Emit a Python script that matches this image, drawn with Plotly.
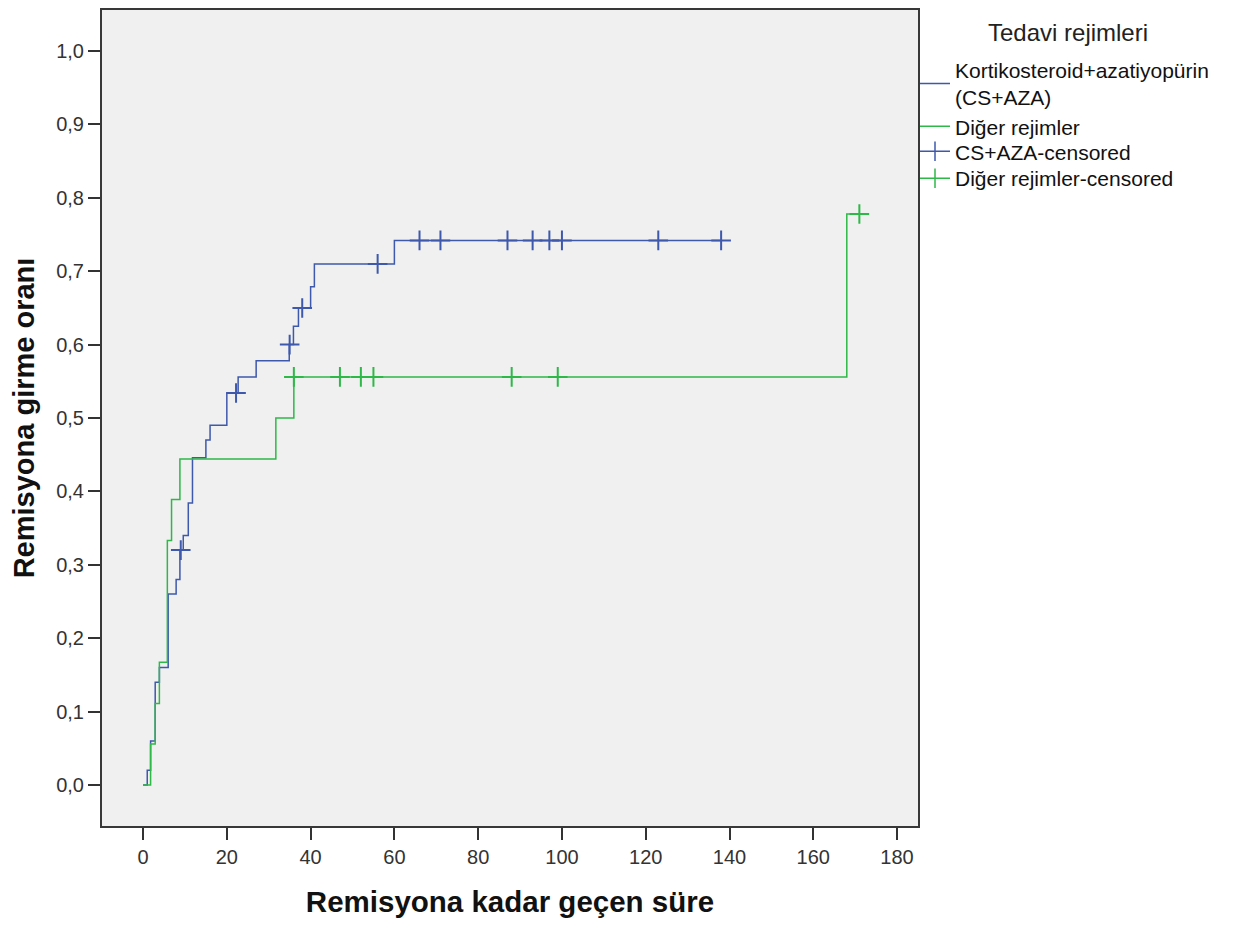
import plotly.graph_objects as go

# ---- data ----
cs_aza_time = [0, 1, 1.8, 2.9, 3.9, 6.0, 7.9, 8.8, 9.6, 10.8, 11.8, 15.0, 16.0, 20.0, 22.7,
               27.0, 34.9, 35.9, 37.1, 40.0, 40.9, 60.0, 138]
cs_aza_rate = [0, 0.02, 0.06, 0.14, 0.16, 0.26, 0.28, 0.32, 0.34, 0.384, 0.446, 0.47, 0.49,
               0.534, 0.556, 0.578, 0.60, 0.625, 0.65, 0.679, 0.71, 0.742, 0.742]
cs_aza_cens_time = [9.0, 22.2, 35.0, 38.0, 56.0, 66, 71, 87, 93, 97, 100, 123, 138]
cs_aza_cens_rate = [0.32, 0.534, 0.60, 0.65, 0.71, 0.742, 0.742, 0.742, 0.742, 0.742, 0.742,
                    0.742, 0.742]

diger_time = [0, 1.8, 2.9, 3.9, 5.8, 6.8, 8.8, 31.7, 36.0, 168, 171]
diger_rate = [0, 0.0556, 0.111, 0.167, 0.333, 0.389, 0.444, 0.5, 0.556, 0.778, 0.778]
diger_cens_time = [36, 47, 52, 55, 88, 99, 171]
diger_cens_rate = [0.556, 0.556, 0.556, 0.556, 0.556, 0.556, 0.778]

series_names = ["Kortikosteroid+azatiyopürin<br>(CS+AZA)", "Diğer rejimler",
                "CS+AZA-censored", "Diğer rejimler-censored"]
legend_title = "Tedavi rejimleri"
x_title = "Remisyona kadar geçen süre"
y_title = "Remisyona girme oranı"
x_ticks = [0, 20, 40, 60, 80, 100, 120, 140, 160, 180]
y_ticks = [0.0, 0.1, 0.2, 0.3, 0.4, 0.5, 0.6, 0.7, 0.8, 0.9, 1.0]

BLUE = "#3E58AC"
GREEN = "#2EB848"
FONT = "Liberation Sans, Arial, sans-serif"

fig = go.Figure()
fig.add_trace(go.Scatter(x=cs_aza_time, y=cs_aza_rate, mode="lines", line=dict(shape="hv", color=BLUE, width=1.5),
                         name=series_names[0], showlegend=True, legend="legend"))
fig.add_trace(go.Scatter(x=diger_time, y=diger_rate, mode="lines", line=dict(shape="hv", color=GREEN, width=1.5),
                         name=series_names[1], showlegend=True, legend="legend2"))
fig.add_trace(go.Scatter(x=cs_aza_cens_time, y=cs_aza_cens_rate, mode="markers",
                         marker=dict(symbol="cross-thin", size=14, color=BLUE, line=dict(color=BLUE, width=2)),
                         name=series_names[2], showlegend=False))
fig.add_trace(go.Scatter(x=diger_cens_time, y=diger_cens_rate, mode="markers",
                         marker=dict(symbol="cross-thin", size=14, color=GREEN, line=dict(color=GREEN, width=2)),
                         name=series_names[3], showlegend=False))
# legend-only entries for censored markers (line with a tick)
for nm, col, lg in [(series_names[2], BLUE, "legend3"), (series_names[3], GREEN, "legend4")]:
    fig.add_trace(go.Scatter(x=[None], y=[None], mode="lines+markers", name=nm, legend=lg,
                             line=dict(color=col, width=1.5),
                             marker=dict(symbol="line-ns", size=14, color=col, line=dict(color=col, width=1.5))))

PLOT_BOTTOM, PLOT_H = 826, 818


def py(screen_y):
    return (PLOT_BOTTOM - screen_y) / PLOT_H


def leg(center_y):
    return dict(x=1.0 - 3 / 816, xanchor="left", y=py(center_y), yanchor="middle",
                bgcolor="rgba(0,0,0,0)", borderwidth=0,
                font=dict(family=FONT, size=21, color="#111"),
                itemwidth=30, tracegroupgap=0)


fig.update_layout(
    width=1235, height=925,
    margin=dict(l=94, r=325, t=0, b=107),
    paper_bgcolor="white", plot_bgcolor="#F0F0F0",
    separators=", ",
    font=dict(family=FONT, size=20, color="#222"),
    legend=leg(82), legend2=leg(125), legend3=leg(150), legend4=leg(177),
    annotations=[dict(text=legend_title, xref="paper", yref="paper", x=(1068 - 102) / 816,
                      y=py(31), xanchor="center", yanchor="middle", showarrow=False,
                      font=dict(family=FONT, size=24, color="#222"))],
)
fig.update_xaxes(range=[-9.8, 185], tickvals=x_ticks, ticks="outside", ticklen=12, tickwidth=1.5,
                 tickcolor="#333", showline=True, linecolor="#383838", linewidth=2, mirror=True,
                 showgrid=False, zeroline=False, tickfont=dict(family=FONT, size=20, color="#333"),
                 title=dict(text=x_title, standoff=24, font=dict(family=FONT, size=29.5, color="#111", weight="bold")))
fig.update_yaxes(range=[-0.056, 1.056], tickvals=y_ticks, tickformat=".1f", ticks="outside", ticklen=12,
                 tickwidth=1.5, tickcolor="#333", showline=True, linecolor="#383838", linewidth=2, mirror=True,
                 showgrid=False, zeroline=False, tickfont=dict(family=FONT, size=20, color="#333"),
                 title=dict(text=y_title, standoff=13, font=dict(family=FONT, size=29, color="#111", weight="bold")))

fig.write_html("out.html")
